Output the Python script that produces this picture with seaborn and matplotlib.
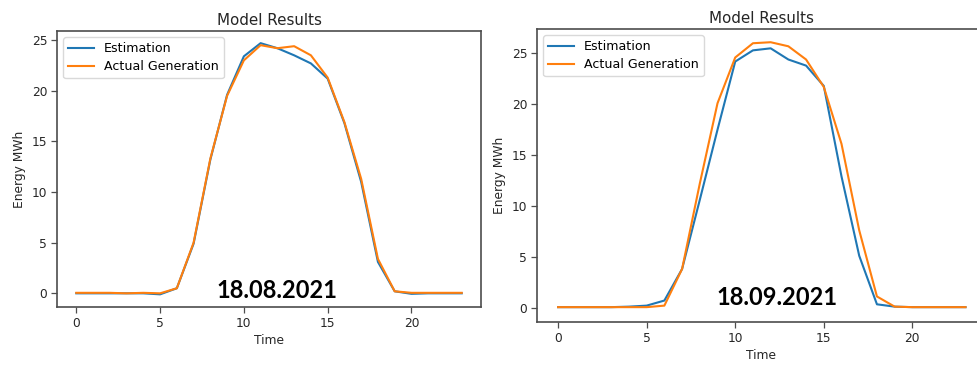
import numpy as np
import pandas as pd
import matplotlib
matplotlib.use("Agg")
import matplotlib.pyplot as plt
import seaborn as sns

# Hourly energy, 18.08.2021
hours = list(range(24))
est_aug = [0.0, 0.0, 0.0, 0.0, 0.0, -0.1, 0.5, 4.9, 13.2, 19.6, 23.4, 24.7,
           24.2, 23.5, 22.7, 21.2, 16.8, 11.0, 3.1, 0.2, -0.05, 0.0, 0.0, 0.0]
act_aug = [0.05, 0.05, 0.05, 0.0, 0.05, 0.0, 0.5, 5.0, 13.3, 19.5, 23.0, 24.5,
           24.2, 24.4, 23.5, 21.3, 16.9, 11.3, 3.4, 0.2, 0.05, 0.05, 0.05, 0.05]

# Hourly energy, 18.09.2021
est_sep = [0.05, 0.05, 0.05, 0.05, 0.1, 0.2, 0.7, 3.8, 10.6, 17.5, 24.2, 25.3,
           25.5, 24.4, 23.8, 21.8, 12.9, 5.1, 0.33, 0.1, 0.05, 0.05, 0.05, 0.05]
act_sep = [0.05, 0.05, 0.05, 0.05, 0.05, 0.05, 0.2, 3.8, 12.2, 20.1, 24.6, 26.0,
           26.1, 25.7, 24.4, 21.7, 16.1, 7.6, 1.1, 0.1, 0.05, 0.05, 0.05, 0.05]

series_names = ["Estimation", "Actual Generation"]
dates = ["18.08.2021", "18.09.2021"]

palette = {"Estimation": "#1f77b4", "Actual Generation": "#ff7f0e"}
spine_col = "#4d4d4d"
text_col = "#262626"

plt.rcParams["font.family"] = ["DejaVu Sans"]

fig = plt.figure(figsize=(9.77, 3.65), dpi=100)
W, H = 977, 365


def axes_px(left, top, right, bottom):
    return fig.add_axes([left / W, (H - bottom) / H, (right - left) / W, (bottom - top) / H])


ax1 = axes_px(57, 31, 481, 307)
ax2 = axes_px(537, 29, 985, 322)


def frame(est, act):
    return pd.DataFrame({
        "Time": hours * 2,
        "Energy MWh": est + act,
        "series": [series_names[0]] * 24 + [series_names[1]] * 24,
    })


for ax, est, act, date, ylim, xlim, txt_xy in [
    (ax1, est_aug, act_aug, dates[0], (-1.35, 25.9), (-1.15, 24.15), (0.519, 0.058)),
    (ax2, est_sep, act_sep, dates[1], (-1.41, 27.4), (-1.19, 24.1), (0.535, 0.085)),
]:
    sns.lineplot(data=frame(est, act), x="Time", y="Energy MWh", hue="series",
                 palette=palette, linewidth=1.5, ax=ax)
    ax.set_xlim(*xlim)
    ax.set_ylim(*ylim)
    ax.set_xticks([0, 5, 10, 15, 20])
    ax.set_yticks([0, 5, 10, 15, 20, 25])
    ax.set_title("Model Results", fontsize=10.9, color=text_col, pad=4)
    ax.set_xlabel("Time", fontsize=8.8, color=text_col, labelpad=3)
    ax.set_ylabel("Energy MWh", fontsize=8.8, color=text_col, labelpad=4)
    ax.tick_params(labelsize=8.8, colors=text_col, length=4, width=0.9,
                   color=spine_col, pad=3)
    for s in ax.spines.values():
        s.set_color(spine_col)
        s.set_linewidth(1.2)
    leg = ax.legend(loc="upper left", fontsize=9.1, frameon=True,
                    handlelength=2.0, borderpad=0.4, labelspacing=0.4,
                    borderaxespad=0.5)
    leg.get_frame().set_edgecolor("#d0d0d0")
    ax.text(txt_xy[0], txt_xy[1], date, transform=ax.transAxes,
            ha="center", va="center", fontsize=17, fontweight="bold",
            family=["Lato", "DejaVu Sans"], color="black")

fig.savefig("out.png", dpi=100, facecolor="white")
